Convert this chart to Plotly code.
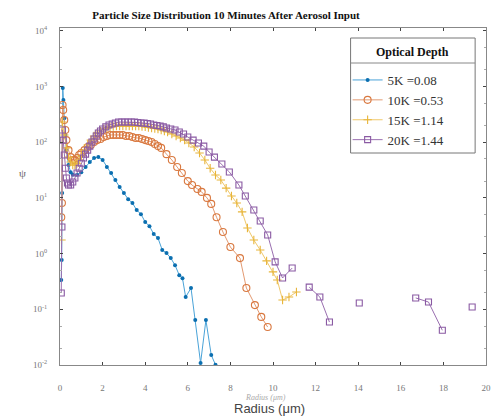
import math
import plotly.graph_objects as go

# ---------------- data ----------------
r_5k = [0.06, 0.08, 0.10, 0.13, 0.16, 0.20, 0.25, 0.30, 0.40, 0.50,
        0.60, 0.80, 1.00, 1.20, 1.40, 1.60, 1.80, 2.00, 2.20, 2.40,
        2.60, 2.80, 3.00, 3.20, 3.40, 3.60, 3.80, 4.00, 4.20, 4.40,
        4.60, 4.80, 5.00, 5.20, 5.40, 5.60, 5.75, 5.90, 6.15, 6.35,
        6.60, 6.85, 7.10, 7.30]
psi_5k = [0.336, 0.77, 12.2, 940, 570, 270, 135, 72, 39, 29,
          26, 26, 29, 36, 44, 52, 54, 48, 36, 28,
          21, 15.7, 12.2, 9.5, 8.1, 6.05, 5.1, 3.7, 3.1, 2.25,
          1.9, 1.16, 1.02, 0.83, 0.62, 0.41, 0.36, 0.166, 0.241, 0.064,
          0.0109, 0.064, 0.0151, 0.0101]

r_10k = [0.06, 0.09, 0.12, 0.15, 0.20, 0.25, 0.30, 0.40, 0.50, 0.60,
         0.70, 0.80, 0.90, 1.00, 1.15, 1.30, 1.45, 1.60, 1.75, 1.90,
         2.05, 2.20, 2.35, 2.50, 2.65, 2.80, 2.95, 3.10, 3.25, 3.40,
         3.55, 3.70, 3.85, 4.00, 4.15, 4.30, 4.45, 4.60, 4.75, 5.00,
         5.25, 5.50, 5.72, 6.00, 6.20, 6.45, 6.65, 6.90, 7.10, 7.35,
         7.65, 8.00, 8.45, 8.75, 9.15, 9.45, 9.75]
psi_10k = [4.5, 8.1, 466, 379, 250, 166, 109, 72, 54, 48,
           48, 52, 59, 64, 72, 82, 89, 101, 109, 114,
           124, 129, 135, 135, 135, 135, 135, 129, 129, 124,
           119, 119, 114, 109, 105, 101, 93, 85, 79, 61,
           48, 35.8, 28, 20, 17, 14.4, 12.8, 10, 7.8, 4.5,
           2.44, 1.31, 0.83, 0.241, 0.119, 0.073, 0.048]

r_15k = [0.07, 0.11, 0.20, 0.30, 0.40, 0.50, 0.60, 0.70, 0.80, 0.90,
         1.00, 1.15, 1.30, 1.45, 1.60, 1.75, 1.90, 2.05, 2.20, 2.35,
         2.50, 2.65, 2.80, 2.95, 3.10, 3.25, 3.40, 3.55, 3.70, 3.85,
         4.00, 4.15, 4.30, 4.45, 4.60, 4.75, 4.90, 5.05, 5.25, 5.45,
         5.65, 5.85, 6.05, 6.30, 6.55, 6.80, 7.05, 7.30, 7.55, 7.80,
         8.05, 8.30, 8.55, 8.80, 9.10, 9.40, 9.70, 10.00, 10.20, 10.45,
         10.75, 11.10]
psi_15k = [1.75, 230, 135, 79, 54, 44, 39, 39, 42, 48,
           56.5, 72, 89, 109, 129, 146, 159, 173, 180, 188,
           191, 195, 195, 195, 195, 195, 195, 195, 195, 191,
           188, 184, 180, 176, 173, 166, 159, 152, 140, 129,
           119, 109, 97, 82, 64, 48, 34, 25.8, 21, 15,
           10.8, 8.1, 5.6, 2.88, 1.75, 1.16, 0.74, 0.47, 0.336, 0.147,
           0.166, 0.204]

r_20k = [0.06, 0.09, 0.11, 0.15, 0.20, 0.25, 0.30, 0.35, 0.40, 0.50,
         0.60, 0.70, 0.80, 0.90, 1.00, 1.10, 1.20, 1.30, 1.40, 1.50,
         1.60, 1.70, 1.80, 1.90, 2.00, 2.15, 2.30, 2.45, 2.60, 2.75,
         2.90, 3.05, 3.20, 3.35, 3.50, 3.65, 3.80, 3.95, 4.10, 4.25,
         4.40, 4.55, 4.70, 4.85, 5.00, 5.20, 5.40, 5.60, 5.80, 6.00,
         6.25, 6.50, 6.75, 7.00, 7.25, 7.60, 7.95, 8.40, 8.70, 9.10,
         9.40, 9.75, 10.10, 10.45, 10.90, 11.30, 11.70, 12.20, 12.65, 13.30,
         14.05, 15.40, 16.70, 17.30, 17.95, 18.60, 19.35]
psi_20k = [0.196, 3.0, 166, 109, 59, 34, 22.8, 18.5, 17, 17,
           19.3, 22.8, 28, 34, 42, 52, 61, 72, 85, 101,
           114, 129, 146, 159, 173, 188, 204, 212, 221, 230,
           230, 230, 230, 230, 230, 225, 221, 221, 216, 212,
           204, 199, 195, 188, 180, 173, 166, 152, 140, 124,
           109, 97, 85, 66.7, 54, 40.6, 29.2, 17, 10.8, 6.05,
           3.85, 2.16, 0.71, 0.365, 0.55, None, 0.25, 0.166, 0.059, None,
           0.13, None, 0.16, 0.135, 0.042, None, 0.11]

names = ["5K =0.08", "10K =0.53", "15K =1.14", "20K =1.44"]
x_ticks = [0, 2, 4, 6, 8, 10, 12, 14, 16, 18, 20]
y_ticks = [1e-2, 1e-1, 1e0, 1e1, 1e2, 1e3, 1e4]
y_ticktext = ["10<sup>%d</sup>" % round(math.log10(v)) for v in y_ticks]

SERIF = "Liberation Serif, Times New Roman, serif"

fig = go.Figure()

fig.add_trace(go.Scatter(
    x=r_5k, y=psi_5k, name=names[0], mode="lines+markers",
    line=dict(color="#4aa3d8", width=1),
    marker=dict(symbol="circle", size=4, color="#0b6fb0"),
))
fig.add_trace(go.Scatter(
    x=r_10k, y=psi_10k, name=names[1], mode="lines+markers",
    line=dict(color="#e39a72", width=1),
    marker=dict(symbol="circle-open", size=7, color="#d9783f",
                line=dict(width=1.1)),
))
fig.add_trace(go.Scatter(
    x=r_15k, y=psi_15k, name=names[2], mode="lines+markers",
    line=dict(color="#f0c86a", width=1),
    marker=dict(symbol="cross-thin-open", size=6, color="#e8b53a",
                line=dict(width=1.1)),
))
fig.add_trace(go.Scatter(
    x=r_20k, y=psi_20k, name=names[3], mode="lines+markers",
    connectgaps=False,
    line=dict(color="#9a6fb0", width=1),
    marker=dict(symbol="square-open", size=6, color="#8a5aa3",
                line=dict(width=1.1)),
))

# plot area in pixels: x 60..491, y 28..365
def px_x(p):
    return (p - 60) / 431.0

def px_y(p):
    return 1 - (p - 28) / 337.0

fig.update_layout(
    width=494, height=417,
    margin=dict(l=60, r=3, t=28, b=52),
    paper_bgcolor="white", plot_bgcolor="white",
    showlegend=True,
    title=dict(text="<b>Particle Size Distribution 10 Minutes After Aerosol Input</b>",
               x=226 / 494, xanchor="center", xref="container",
               y=1 - 15 / 417, yanchor="middle", yref="container",
               font=dict(family=SERIF, size=11, color="#111")),
    legend=dict(x=px_x(351), y=px_y(65), xanchor="left", yanchor="top",
                bgcolor="rgba(0,0,0,0)", borderwidth=0,
                font=dict(family=SERIF, size=13, color="#333"),
                itemwidth=30, tracegroupgap=0),
    xaxis=dict(range=[0, 20], tickvals=x_ticks, ticks="inside", ticklen=3,
               showline=True, linecolor="#888", linewidth=1, mirror="ticks",
               showgrid=False, zeroline=False, ticklabelstandoff=14,
               ticklabeloverflow="allow",
               tickfont=dict(family=SERIF, size=9, color="#777")),
    yaxis=dict(type="log", range=[-2, 4.05], tickvals=y_ticks,
               ticktext=y_ticktext, ticks="inside", ticklen=3,
               showline=True, linecolor="#888", linewidth=1, mirror="ticks",
               showgrid=False, zeroline=False, ticklabelstandoff=10,
               ticklabeloverflow="allow",
               minor=dict(ticks="inside", ticklen=2, tickcolor="#aaa"),
               tickfont=dict(family=SERIF, size=9, color="#777")),
)

# legend box and separator
fig.add_shape(type="rect", xref="paper", yref="paper",
              x0=px_x(354), x1=px_x(480), y0=px_y(153), y1=px_y(38),
              line=dict(color="#777", width=1), fillcolor="rgba(255,255,255,0)",
              layer="above")
fig.add_shape(type="line", xref="paper", yref="paper",
              x0=px_x(354), x1=px_x(480), y0=px_y(63), y1=px_y(63),
              line=dict(color="#888", width=1))
fig.add_annotation(text="<b>Optical Depth</b>", xref="paper", yref="paper",
                   x=px_x(417), y=px_y(52), xanchor="center", yanchor="middle",
                   showarrow=False, font=dict(family=SERIF, size=12, color="#111"))

# axis titles
fig.add_annotation(text="ψ", xref="paper", yref="paper",
                   x=px_x(22), y=px_y(173), xanchor="center", yanchor="middle",
                   showarrow=False, font=dict(family=SERIF, size=11, color="#666"))
fig.add_annotation(text="<i>Radius (μm)</i>", xref="paper", yref="paper",
                   x=px_x(268), y=px_y(397), xanchor="center", yanchor="middle",
                   showarrow=False, font=dict(family=SERIF, size=8, color="#aaa"))
fig.add_annotation(text="Radius (μm)", xref="paper", yref="paper",
                   x=px_x(272), y=px_y(408), xanchor="center", yanchor="middle",
                   showarrow=False, font=dict(family="Liberation Sans, Arial, sans-serif",
                                              size=13, color="#444"))

fig.write_html("out.html")
